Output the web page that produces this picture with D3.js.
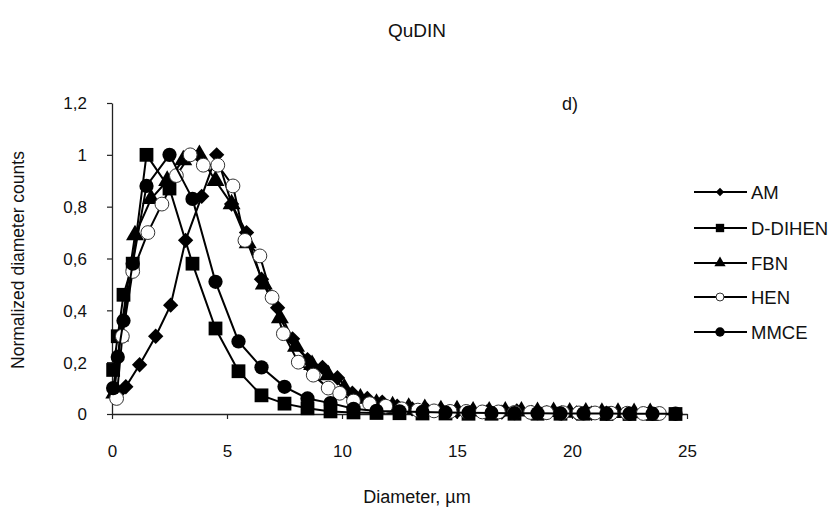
<!DOCTYPE html>
<html><head><meta charset="utf-8">
<script src="https://cdn.jsdelivr.net/npm/d3@7"></script>
<style>body{margin:0;background:#fff}svg{display:block}text{font-family:"Liberation Sans",Arial,sans-serif;fill:#111}</style>
</head><body>
<svg id="c" width="834" height="510"></svg>
<script>
const seriesNames = ["AM","D-DIHEN","FBN","HEN","MMCE"];
const xTicks = [0,5,10,15,20,25];
const yTicks = [0,0.2,0.4,0.6,0.8,1,1.2];

const amX = [0.25,0.6,1.2,1.9,2.55,3.2,3.9,4.55,5.2,5.85,6.5,7.2,7.85,8.5,9.15,9.8,10.45,11.1,11.75,12.4,13.05,13.7,14.35,15,15.65,16.3,16.95,17.6,18.25,18.9,19.55,20.2,20.85,21.5];
const amY = [0.08,0.105,0.19,0.30,0.42,0.67,0.84,1.0,0.81,0.70,0.52,0.41,0.29,0.21,0.18,0.14,0.08,0.06,0.046,0.03,0.02,0.015,0.012,0.01,0.01,0.008,0.007,0.012,0.006,0.005,0.004,0.004,0.003,0.003];

const ddX = [0.05,0.25,0.5,0.9,1.5,2.5,3.5,4.5,5.5,6.5,7.5,8.5,9.5,10.5,11.5,12.5,13.5,14.5,15.5,16.5,17.5,18.5,19.5,20.5,21.5,22.5,23.5,24.5];
const ddY = [0.17,0.30,0.46,0.58,1.0,0.87,0.58,0.33,0.165,0.072,0.04,0.022,0.01,0.006,0.004,0.003,0.002,0.002,0.001,0.001,0.001,0.001,0.001,0.001,0,0,0,0];

const fbX = [0.1,0.35,1.0,1.7,2.4,3.1,3.8,4.5,5.2,5.9,6.6,7.3,8.0,8.7,9.4,10.1,10.8,11.5,12.2,12.9,13.6,14.3,15,15.7,16.4,17.1,17.8,18.5,19.2,19.9,20.6,21.3,22,22.7,23.4];
const fbY = [0.08,0.3,0.69,0.83,0.9,0.98,1.0,0.9,0.81,0.66,0.5,0.37,0.26,0.19,0.15,0.1,0.06,0.04,0.03,0.025,0.02,0.015,0.015,0.01,0.01,0.01,0.01,0.008,0.008,0.006,0.006,0.005,0.005,0.004,0.004];

const heX = [0.2,0.45,0.9,1.56,2.17,2.8,3.4,3.97,4.6,5.26,5.78,6.43,6.96,7.45,8.1,8.75,9.4,9.9,10.5,11.2,11.9,12.6,13.3,14,14.7,15.4,16.1,16.8,17.5,18.2,18.9,19.6,20.3,21,21.7,22.4,23.1,23.8];
const heY = [0.06,0.3,0.55,0.7,0.81,0.92,1.0,0.96,0.96,0.88,0.67,0.61,0.45,0.31,0.2,0.15,0.1,0.08,0.05,0.04,0.03,0.02,0.015,0.012,0.01,0.01,0.008,0.008,0.006,0.006,0.005,0.005,0.004,0.004,0.003,0.003,0.002,0.002];

const mmX = [0.05,0.25,0.5,0.9,1.5,2.5,3.5,4.5,5.5,6.5,7.5,8.5,9.5,10.5,11.5,12.5,13.5,14.5,15.5,16.5,17.5,18.5,19.5,20.5,21.5,22.5,23.5,24.5];
const mmY = [0.1,0.22,0.36,0.58,0.88,1.0,0.83,0.51,0.28,0.18,0.105,0.06,0.042,0.02,0.012,0.01,0.008,0.006,0.005,0.004,0.003,0.003,0.002,0.002,0.002,0.001,0.001,0.001];

const seriesX = [amX, ddX, fbX, heX, mmX];
const seriesY = [amY, ddY, fbY, heY, mmY];
const symbols = [d3.symbolDiamond2, d3.symbolSquare, d3.symbolTriangle, d3.symbolCircle, d3.symbolCircle];
const sizes = [150, 190, 140, 150, 160];
const legSizes = [45, 70, 55, 50, 70];
const fills = ["#000","#000","#000","#fff","#000"];

const svg = d3.select("#c");
const x = d3.scaleLinear().domain([0,25]).range([112,687]);
const y = d3.scaleLinear().domain([0,1.2]).range([414,103]);

svg.append("text").attr("x",417).attr("y",37).attr("text-anchor","middle").style("font-size","19px").attr("fill","#222").text("QuDIN");
svg.append("text").attr("x",562).attr("y",110).style("font-size","18px").attr("fill","#222").text("d)");

const xa = svg.append("g").attr("transform","translate(0,414)")
  .call(d3.axisBottom(x).tickValues(xTicks).tickSize(5).tickSizeOuter(0).tickFormat(d=>d));
const ya = svg.append("g").attr("transform","translate(112,0)")
  .call(d3.axisLeft(y).tickValues(yTicks).tickSize(5).tickSizeOuter(0).tickFormat(d=>String(d).replace(".",",")));
[xa,ya].forEach(a=>{a.select(".domain").attr("stroke","#222").attr("stroke-width",1.3);
  a.selectAll(".tick line").attr("stroke","#222").attr("stroke-width",1.2);
  a.selectAll("text").style("font-size","17px").attr("fill","#222").style("font-family","Liberation Sans, Arial, sans-serif");});
xa.selectAll("text").attr("y",0).attr("dy",0).attr("transform","translate(0,43)");
ya.selectAll("text").attr("x",-25).attr("dy","0.35em");

svg.append("text").attr("x",417).attr("y",503).attr("text-anchor","middle").style("font-size","18px").attr("fill","#222").text("Diameter, \u00b5m");
svg.append("text").attr("transform","translate(24,260) rotate(-90)").attr("text-anchor","middle").style("font-size","17.5px").attr("fill","#222").text("Normalized diameter counts");

const line = d3.line().x(d=>x(d[0])).y(d=>y(d[1]));
seriesNames.forEach((n,i)=>{
  const pts = seriesX[i].map((v,j)=>[v, seriesY[i][j]]);
  const g = svg.append("g");
  g.append("path").attr("d",line(pts)).attr("fill","none").attr("stroke","#000").attr("stroke-width",2);
  g.selectAll("path.s").data(pts).join("path").attr("class","s")
    .attr("transform",d=>`translate(${x(d[0])},${y(d[1])})`)
    .attr("d",d3.symbol().type(symbols[i]).size(sizes[i]))
    .attr("fill",fills[i]).attr("stroke", i===3?"#333":"none").attr("stroke-width",1);
});

const leg = svg.append("g");
const legY = [192,228,263,297,332];
seriesNames.forEach((n,i)=>{
  const yy = legY[i];
  leg.append("line").attr("x1",694).attr("x2",747).attr("y1",yy).attr("y2",yy).attr("stroke","#000").attr("stroke-width",2);
  leg.append("path").attr("transform",`translate(720,${yy})`).attr("d",d3.symbol().type(symbols[i]).size(legSizes[i]))
    .attr("fill",fills[i]).attr("stroke", i===3?"#333":"none");
  leg.append("text").attr("x",751).attr("y",yy+6.5).style("font-size","18.5px").attr("fill","#222").text(n);
});
</script></body></html>
